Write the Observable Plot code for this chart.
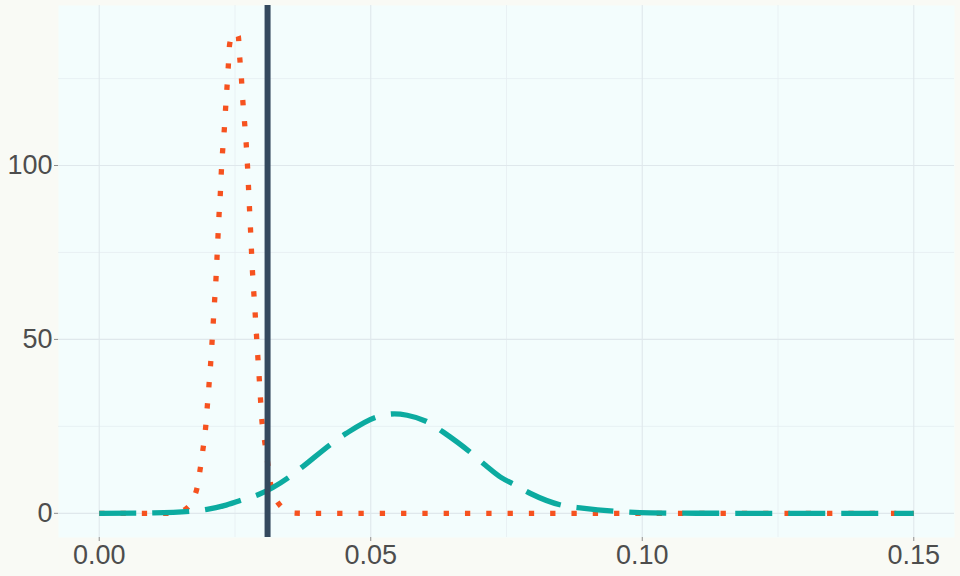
<!DOCTYPE html>
<html>
<head>
<meta charset="utf-8">
<script src="https://cdn.jsdelivr.net/npm/d3@7"></script>
<script src="https://cdn.jsdelivr.net/npm/@observablehq/plot@0.6"></script>
<style>
  html, body { margin: 0; padding: 0; background: #f9faf5; }
  #chart { width: 960px; height: 576px; }
</style>
</head>
<body>
<div id="chart"></div>
<script>
// Orange dotted curve (x, density)
const orangeX = [0, 0.012, 0.0140, 0.0159, 0.01787, 0.01856, 0.01911, 0.01959, 0.0199, 0.02021, 0.02051, 0.02077, 0.02101, 0.02125, 0.0215, 0.02169, 0.02187, 0.02206, 0.0223, 0.02248, 0.02272, 0.02303, 0.02327, 0.02353, 0.02377, 0.02401, 0.02460, 0.02520, 0.02561, 0.02585, 0.02617, 0.02641, 0.02672, 0.02703, 0.02727, 0.02746, 0.02764, 0.02783, 0.02801, 0.02819, 0.02843, 0.02869, 0.02893, 0.02917, 0.02943, 0.02967, 0.02991, 0.0304, 0.03096, 0.03146, 0.03275, 0.0357, 0.038, 0.15];
const orangeY = [0, 0, 0.2, 1.2, 6.4, 12.4, 18.5, 24.6, 30.7, 36.8, 42.9, 49.1, 55.2, 61.2, 67.4, 73.5, 79.6, 85.7, 91.9, 98.0, 104.1, 110.3, 116.4, 122.5, 128.6, 134.8, 137.6, 138.2, 137.2, 131.5, 125.4, 119.3, 113.2, 107.1, 100.9, 94.8, 88.7, 82.6, 76.4, 70.4, 64.3, 58.1, 52.0, 45.9, 39.7, 33.6, 27.6, 21.4, 15.2, 9.3, 3.4, 0.1, 0, 0];

// Teal dashed curve (x, density)
const tealX = [0, 0.010, 0.01677, 0.01985, 0.02300, 0.02598, 0.02935, 0.03488, 0.03754, 0.04275, 0.04552, 0.0511, 0.05436, 0.0567, 0.06068, 0.06339, 0.06861, 0.07113, 0.0739, 0.07653, 0.07942, 0.08556, 0.08895, 0.0954, 0.1015, 0.110, 0.15];
const tealY = [0, 0.12, 0.57, 1.15, 2.2, 3.7, 5.4, 10.3, 13.5, 20.0, 23.0, 27.7, 28.6, 28.2, 26.1, 23.3, 17.2, 13.8, 10.4, 8.2, 5.7, 2.2, 1.5, 0.57, 0.15, 0.02, 0];

// Vertical reference line
const refX = [0.031];

// Axis ticks
const xMajor = [0, 0.05, 0.10, 0.15];
const xMinor = [0.025, 0.075, 0.125];
const yMajor = [0, 50, 100];
const yMinor = [25, 75, 125];

const orange = orangeX.map((x, i) => ({x, y: orangeY[i]}));
const teal = tealX.map((x, i) => ({x, y: tealY[i]}));

const chart = Plot.plot({
  width: 960,
  height: 576,
  marginLeft: 58,
  marginRight: 6,
  marginTop: 5,
  marginBottom: 39,
  style: {background: "transparent", fontFamily: "'Liberation Sans', Arial, sans-serif", fontSize: "27px"},
  x: {domain: [-0.0075, 0.1575]},
  y: {domain: [-6.95, 146.0]},
  marks: [
    Plot.frame({fill: "#f3fdfd", stroke: null}),
    Plot.ruleX(xMinor, {stroke: "#e6eef1", strokeWidth: 0.8}),
    Plot.ruleY(yMinor, {stroke: "#e6eef1", strokeWidth: 0.8}),
    Plot.ruleX(xMajor, {stroke: "#dfe8ec", strokeWidth: 1.1}),
    Plot.ruleY(yMajor, {stroke: "#dfe8ec", strokeWidth: 1.1}),
    Plot.line(orange, {x: "x", y: "y", curve: "monotone-x", stroke: "#f6521f", strokeWidth: 5.3, strokeDasharray: "5.3,16", strokeLinecap: "butt", strokeLinejoin: "round"}),
    Plot.line(teal, {x: "x", y: "y", curve: "monotone-x", stroke: "#0caba0", strokeWidth: 5.3, strokeDasharray: "37,16", strokeLinecap: "butt", strokeLinejoin: "round"}),
    Plot.ruleX(refX, {stroke: "#34495e", strokeWidth: 6}),
    Plot.axisX(xMajor, {tickFormat: d3.format(".2f"), tickSize: 4, tickPadding: 3, stroke: "#8c8c8c", fill: "#4d4d4d", fontSize: 27, label: null}),
    Plot.axisY(yMajor, {tickFormat: d3.format("d"), tickSize: 4, tickPadding: 2, stroke: "#8c8c8c", fill: "#4d4d4d", fontSize: 27, label: null})
  ]
});
document.getElementById("chart").appendChild(chart);
</script>
</body>
</html>
